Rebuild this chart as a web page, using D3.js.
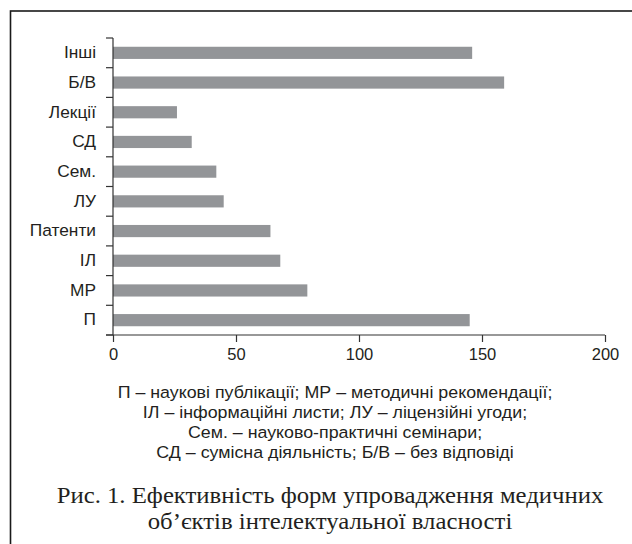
<!DOCTYPE html>
<html>
<head>
<meta charset="utf-8">
<script src="https://cdn.jsdelivr.net/npm/d3@7"></script>
<style>
  html, body { margin: 0; padding: 0; background: #fff; }
  svg { display: block; }
</style>
</head>
<body>
<svg id="chart" width="632" height="544"></svg>
<script>
// Categories listed bottom-to-top as in the figure
const categories = ["П", "МР", "ІЛ", "Патенти", "ЛУ", "Сем.", "СД", "Лекції", "Б/В", "Інші"];
const values = [145, 79, 68, 64, 45, 42, 32, 26, 159, 146];
const xTicks = [0, 50, 100, 150, 200];
const legendLines = [
  "П – наукові публікації; МР – методичні рекомендації;",
  "ІЛ – інформаційні листи; ЛУ – ліцензійні угоди;",
  "Сем. – науково-практичні семінари;",
  "СД – сумісна діяльність; Б/В – без відповіді"
];
const captionLines = [
  "Рис. 1. Ефективність форм упровадження медичних",
  "об’єктів інтелектуальної власності"
];

const svg = d3.select("#chart");
const textColor = "#231f20";
const barColor = "#939598";
const axisColor = "#333333";

// Frame (left and top edges visible; right and bottom fall outside picture)
svg.append("rect")
  .attr("x", 10.5).attr("y", 11)
  .attr("width", 640).attr("height", 560)
  .attr("fill", "none")
  .attr("stroke", "#1a1a1a")
  .attr("stroke-width", 1.6);

const x = d3.scaleLinear().domain([0, 200]).range([113, 605]);
const y = d3.scaleBand().domain(categories).range([335, 38]).paddingInner(0.59).paddingOuter(0.295);

// Bars
svg.append("g").selectAll("rect")
  .data(categories)
  .join("rect")
  .attr("x", x(0))
  .attr("y", (d) => y(d))
  .attr("width", (d, i) => x(values[i]) - x(0))
  .attr("height", y.bandwidth())
  .attr("fill", barColor);

// Y axis: ticks at band boundaries
const yEdge = d3.scaleLinear().domain([0, categories.length]).range([335, 38]);
const edges = d3.range(0, categories.length + 1);
const yAxisG = svg.append("g").attr("transform", `translate(${x(0)},0)`);
yAxisG.append("line")
  .attr("x1", 0).attr("x2", 0)
  .attr("y1", yEdge(0)).attr("y2", yEdge(categories.length))
  .attr("stroke", axisColor).attr("stroke-width", 1.2);
yAxisG.selectAll("line.tick")
  .data(edges)
  .join("line")
  .attr("class", "tick")
  .attr("x1", -7).attr("x2", 0)
  .attr("y1", (d) => yEdge(d)).attr("y2", (d) => yEdge(d))
  .attr("stroke", axisColor).attr("stroke-width", 1.2);

const yLabels = d3.axisLeft(y).tickSize(0).tickPadding(17);
const yl = svg.append("g").attr("transform", `translate(${x(0)},0)`).call(yLabels);
yl.select(".domain").remove();
yl.selectAll("text")
  .attr("font-family", "Liberation Sans, Arial, sans-serif")
  .attr("font-size", 16.5)
  .attr("fill", textColor)
  .attr("transform", "scale(1.05,1)")
  .attr("x", -17 / 1.05);

// X axis
const xAxis = d3.axisBottom(x).tickValues(xTicks).tickSize(7).tickPadding(6).tickSizeOuter(0);
const xg = svg.append("g").attr("transform", `translate(0,${yEdge(0)})`).call(xAxis);
xg.select(".domain").attr("stroke", axisColor).attr("stroke-width", 1.2)
  .attr("d", `M${x(0) - 7},0H${x(200)}`);
xg.selectAll(".tick line").attr("stroke", axisColor).attr("stroke-width", 1.2);
xg.selectAll("text")
  .attr("font-family", "Liberation Sans, Arial, sans-serif")
  .attr("font-size", 16.5)
  .attr("fill", textColor);

// Legend text
svg.append("g").selectAll("text")
  .data(legendLines)
  .join("text")
  .attr("transform", (d, i) => `translate(335,${397.5 + i * 20.3}) scale(1.08,1)`)
  .attr("text-anchor", "middle")
  .attr("font-family", "Liberation Sans, Arial, sans-serif")
  .attr("font-size", 16.5)
  .attr("fill", textColor)
  .text((d) => d);

// Caption
svg.append("g").selectAll("text")
  .data(captionLines)
  .join("text")
  .attr("transform", (d, i) => `translate(330,${502.5 + i * 26}) scale(1.1,1)`)
  .attr("text-anchor", "middle")
  .attr("font-family", "Liberation Serif, Times New Roman, serif")
  .attr("font-size", 22.5)
  .attr("fill", textColor)
  .text((d) => d);
</script>
</body>
</html>
